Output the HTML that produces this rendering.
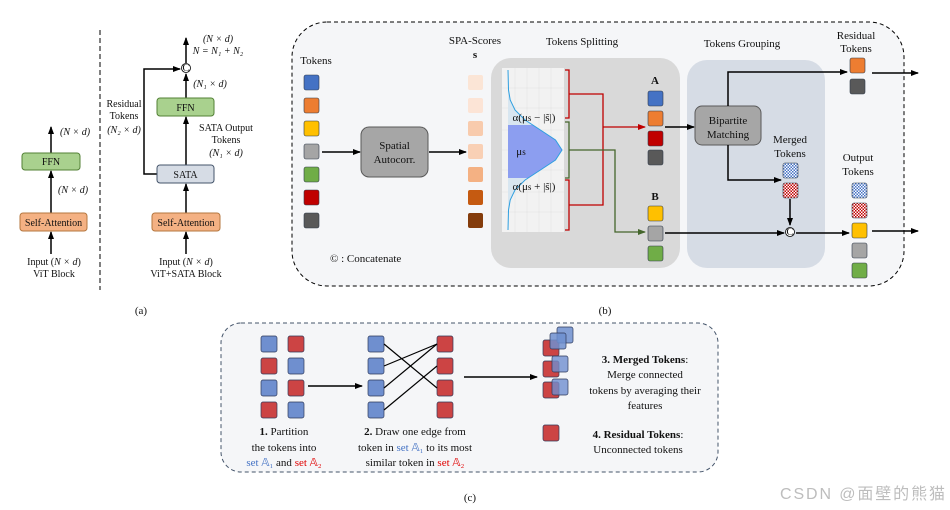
<!DOCTYPE html>
<html><head><meta charset="utf-8"><style>
html,body{margin:0;padding:0;background:#fff}
svg{display:block}
text{font-family:"Liberation Serif",serif;font-size:11px;fill:#111}
.s{font-size:10px}
.b{font-weight:bold}
</style></head><body>
<svg width="950" height="510" viewBox="0 0 950 510" xmlns="http://www.w3.org/2000/svg">
<defs>
<marker id="ar" markerWidth="8" markerHeight="8" refX="7" refY="4" orient="auto" markerUnits="userSpaceOnUse"><path d="M0,1 L8,4 L0,7 z" fill="#000"/></marker>
<marker id="arr" markerWidth="8" markerHeight="8" refX="7" refY="4" orient="auto" markerUnits="userSpaceOnUse"><path d="M0,1 L8,4 L0,7 z" fill="#c00000"/></marker>
<marker id="arg" markerWidth="8" markerHeight="8" refX="7" refY="4" orient="auto" markerUnits="userSpaceOnUse"><path d="M0,1 L8,4 L0,7 z" fill="#44662c"/></marker>
<pattern id="pb" width="3" height="3" patternUnits="userSpaceOnUse"><rect width="3" height="3" fill="#fff"/><rect width="1.5" height="1.5" fill="#4472c4"/><rect x="1.5" y="1.5" width="1.5" height="1.5" fill="#4472c4"/></pattern>
<pattern id="pr" width="3" height="3" patternUnits="userSpaceOnUse"><rect width="3" height="3" fill="#fff"/><rect width="1.5" height="1.5" fill="#c00000"/><rect x="1.5" y="1.5" width="1.5" height="1.5" fill="#c00000"/></pattern>
</defs>

<!-- (a) -->
<line x1="100" y1="30" x2="100" y2="290" stroke="#000" stroke-dasharray="5,3"/>
<g stroke="#000" stroke-width="1.5" fill="none">
<line x1="51" y1="254" x2="51" y2="232" marker-end="url(#ar)"/>
<line x1="51" y1="213" x2="51" y2="171" marker-end="url(#ar)"/>
<line x1="51" y1="153" x2="51" y2="127" marker-end="url(#ar)"/>
<line x1="186" y1="254" x2="186" y2="232" marker-end="url(#ar)"/>
<line x1="186" y1="213" x2="186" y2="184" marker-end="url(#ar)"/>
<line x1="186" y1="165" x2="186" y2="117" marker-end="url(#ar)"/>
<line x1="186" y1="98" x2="186" y2="74" marker-end="url(#ar)"/>
<line x1="186" y1="63" x2="186" y2="38" marker-end="url(#ar)"/>
<polyline points="157,174 144,174 144,69 180,69" marker-end="url(#ar)"/>
</g>
<rect x="22" y="153" width="58" height="17" rx="3" fill="#a9d18e" stroke="#538135"/>
<text x="51" y="165" text-anchor="middle" class="s">FFN</text>
<rect x="20" y="213" width="67" height="18" rx="3" fill="#f4b183" stroke="#b5773f"/>
<text x="53.5" y="226" text-anchor="middle" class="s">Self-Attention</text>
<text x="60" y="135" class="s" font-style="italic">(N × d)</text>
<text x="58" y="193" class="s" font-style="italic">(N × d)</text>
<text x="54" y="265" text-anchor="middle" class="s">Input (<tspan font-style="italic">N × d</tspan>)</text>
<text x="54" y="277" text-anchor="middle" class="s">ViT Block</text>

<rect x="157" y="98" width="57" height="18" rx="3" fill="#a9d18e" stroke="#538135"/>
<text x="185.5" y="111" text-anchor="middle" class="s">FFN</text>
<rect x="157" y="165" width="57" height="18" rx="3" fill="#d6dce5" stroke="#44546a"/>
<text x="185.5" y="178" text-anchor="middle" class="s">SATA</text>
<rect x="152" y="213" width="68" height="18" rx="3" fill="#f4b183" stroke="#b5773f"/>
<text x="186" y="226" text-anchor="middle" class="s">Self-Attention</text>
<circle cx="186" cy="68" r="4.5" fill="#fff" stroke="#000" stroke-width="0.8"/>
<text x="186" y="71" text-anchor="middle" font-size="7">C</text>
<text x="218" y="42" text-anchor="middle" class="s" font-style="italic">(N × d)</text>
<text x="218" y="54" text-anchor="middle" class="s" font-style="italic">N = N₁ + N₂</text>
<text x="210" y="87" text-anchor="middle" class="s" font-style="italic">(N₁ × d)</text>
<text x="124" y="107" text-anchor="middle" class="s">Residual</text>
<text x="124" y="119" text-anchor="middle" class="s">Tokens</text>
<text x="124" y="133" text-anchor="middle" class="s" font-style="italic">(N₂ × d)</text>
<text x="226" y="131" text-anchor="middle" class="s">SATA Output</text>
<text x="226" y="143" text-anchor="middle" class="s">Tokens</text>
<text x="226" y="156" text-anchor="middle" class="s" font-style="italic">(N₁ × d)</text>
<text x="186" y="265" text-anchor="middle" class="s">Input (<tspan font-style="italic">N × d</tspan>)</text>
<text x="186" y="277" text-anchor="middle" class="s">ViT+SATA Block</text>
<text x="141" y="314" text-anchor="middle" font-size="15">(a)</text>

<!-- (b) -->
<rect x="292" y="22" width="612" height="264" rx="35" fill="#f5f6f8" stroke="#000" stroke-dasharray="4,3"/>
<rect x="491" y="58" width="189" height="210" rx="20" fill="#d9d9d9"/>
<rect x="687" y="60" width="138" height="208" rx="20" fill="#d6dce5"/>
<text x="316" y="64" text-anchor="middle">Tokens</text>
<text x="475" y="44" text-anchor="middle">SPA-Scores</text>
<text x="475" y="58" text-anchor="middle" class="b">s</text>
<text x="582" y="45" text-anchor="middle">Tokens Splitting</text>
<text x="742" y="47" text-anchor="middle">Tokens Grouping</text>
<text x="856" y="39" text-anchor="middle">Residual</text>
<text x="856" y="52" text-anchor="middle">Tokens</text>
<text x="790" y="143" text-anchor="middle">Merged</text>
<text x="790" y="157" text-anchor="middle">Tokens</text>
<text x="858" y="161" text-anchor="middle">Output</text>
<text x="858" y="175" text-anchor="middle">Tokens</text>
<g stroke="#2f3a4a" stroke-width="0.6">
<rect x="304" y="75" width="15" height="15" rx="2" fill="#4472c4"/>
<rect x="304" y="98" width="15" height="15" rx="2" fill="#ed7d31"/>
<rect x="304" y="121" width="15" height="15" rx="2" fill="#ffc000"/>
<rect x="304" y="144" width="15" height="15" rx="2" fill="#a5a5a5"/>
<rect x="304" y="167" width="15" height="15" rx="2" fill="#70ad47"/>
<rect x="304" y="190" width="15" height="15" rx="2" fill="#c00000"/>
<rect x="304" y="213" width="15" height="15" rx="2" fill="#595959"/>
</g>
<g>
<rect x="468" y="75" width="15" height="15" rx="2" fill="#fbe5d6"/>
<rect x="468" y="98" width="15" height="15" rx="2" fill="#fce4d6"/>
<rect x="468" y="121" width="15" height="15" rx="2" fill="#f8cbad"/>
<rect x="468" y="144" width="15" height="15" rx="2" fill="#f9d0b5"/>
<rect x="468" y="167" width="15" height="15" rx="2" fill="#f4b183"/>
<rect x="468" y="190" width="15" height="15" rx="2" fill="#c55a11"/>
<rect x="468" y="213" width="15" height="15" rx="2" fill="#843c0c"/>
</g>
<g stroke="#000" stroke-width="1.5" fill="none">
<line x1="322" y1="152" x2="360" y2="152" marker-end="url(#ar)"/>
<line x1="429" y1="152" x2="466" y2="152" marker-end="url(#ar)"/>
</g>
<rect x="361" y="127" width="67" height="50" rx="8" fill="#a6a6a6" stroke="#595959"/>
<text x="394.5" y="149" text-anchor="middle">Spatial</text>
<text x="394.5" y="163" text-anchor="middle">Autocorr.</text>

<!-- chart -->
<rect x="502" y="68" width="62" height="164" fill="#f2f2f2"/>
<g stroke="#e0e0e0" stroke-width="0.5">
<line x1="515" y1="68" x2="515" y2="232"/><line x1="527" y1="68" x2="527" y2="232"/><line x1="539" y1="68" x2="539" y2="232"/><line x1="551" y1="68" x2="551" y2="232"/>
<line x1="502" y1="88" x2="564" y2="88"/><line x1="502" y1="108" x2="564" y2="108"/><line x1="502" y1="130" x2="564" y2="130"/><line x1="502" y1="150" x2="564" y2="150"/><line x1="502" y1="170" x2="564" y2="170"/><line x1="502" y1="192" x2="564" y2="192"/><line x1="502" y1="212" x2="564" y2="212"/>
</g>
<path d="M508,70 L508.5,90 L510.2,100 L515,110 L525.1,120 L540.4,130 L555.5,140 L562,150 L555.5,160 L540.4,170 L525.1,180 L515,190 L510.2,200 L508.5,210 L508,230 Z" fill="#d8e6f0"/>
<path d="M508,125 L532.3,125 L540.4,130 L555.5,140 L562,150 L555.5,160 L540.4,170 L527.9,178 L508,178 Z" fill="#8c9ef0"/>
<path d="M508,70 L508.5,90 L510.2,100 L515,110 L525.1,120 L540.4,130 L555.5,140 L562,150 L555.5,160 L540.4,170 L525.1,180 L515,190 L510.2,200 L508.5,210 L508,230" fill="none" stroke="#2e9fe0" stroke-width="1"/>
<text x="534" y="121" text-anchor="middle" font-size="12.5" fill="#222">α(μ<tspan font-size="9">s</tspan> − |s̃|)</text>
<text x="521" y="155" text-anchor="middle" font-size="12.5">μ<tspan font-size="9">s</tspan></text>
<text x="534" y="190" text-anchor="middle" font-size="12.5" fill="#222">α(μ<tspan font-size="9">s</tspan> + |s̃|)</text>
<g fill="none" stroke-width="1.3">
<polyline points="565,70 569,70 569,118 565,118" stroke="#c00000"/>
<polyline points="565,122 569,122 569,178 565,178" stroke="#44662c"/>
<polyline points="565,180 569,180 569,230 565,230" stroke="#c00000"/>
<polyline points="569,94 603,94 603,205 569,205" stroke="#c00000"/>
<line x1="603" y1="127" x2="645" y2="127" stroke="#c00000" marker-end="url(#arr)"/>
<polyline points="569,150 615,150 615,232 645,232" stroke="#44662c" marker-end="url(#arg)"/>
</g>
<text x="655" y="84" text-anchor="middle" font-size="13" class="b">A</text>
<text x="655" y="200" text-anchor="middle" font-size="13" class="b">B</text>
<g stroke="#2f3a4a" stroke-width="0.6">
<rect x="648" y="91" width="15" height="15" rx="2" fill="#4472c4"/>
<rect x="648" y="111" width="15" height="15" rx="2" fill="#ed7d31"/>
<rect x="648" y="131" width="15" height="15" rx="2" fill="#c00000"/>
<rect x="648" y="150" width="15" height="15" rx="2" fill="#595959"/>
<rect x="648" y="206" width="15" height="15" rx="2" fill="#ffc000"/>
<rect x="648" y="226" width="15" height="15" rx="2" fill="#a5a5a5"/>
<rect x="648" y="246" width="15" height="15" rx="2" fill="#70ad47"/>
<rect x="850" y="58" width="15" height="15" rx="2" fill="#ed7d31"/>
<rect x="850" y="79" width="15" height="15" rx="2" fill="#595959"/>
<rect x="783" y="163" width="15" height="15" rx="2" fill="url(#pb)"/>
<rect x="783" y="183" width="15" height="15" rx="2" fill="url(#pr)"/>
<rect x="852" y="183" width="15" height="15" rx="2" fill="url(#pb)"/>
<rect x="852" y="203" width="15" height="15" rx="2" fill="url(#pr)"/>
<rect x="852" y="223" width="15" height="15" rx="2" fill="#ffc000"/>
<rect x="852" y="243" width="15" height="15" rx="2" fill="#a5a5a5"/>
<rect x="852" y="263" width="15" height="15" rx="2" fill="#70ad47"/>
</g>
<rect x="695" y="106" width="66" height="39" rx="7" fill="#a6a6a6" stroke="#595959"/>
<text x="728" y="124" text-anchor="middle">Bipartite</text>
<text x="728" y="138" text-anchor="middle">Matching</text>
<g stroke="#000" stroke-width="1.5" fill="none">
<line x1="665" y1="127" x2="694" y2="127" marker-end="url(#ar)"/>
<polyline points="728,106 728,72 847,72" marker-end="url(#ar)"/>
<polyline points="728,145 728,180 781,180" marker-end="url(#ar)"/>
<line x1="790" y1="199" x2="790" y2="225" marker-end="url(#ar)"/>
<line x1="665" y1="233" x2="784" y2="233" marker-end="url(#ar)"/>
<line x1="796" y1="233" x2="849" y2="233" marker-end="url(#ar)"/>
<line x1="872" y1="73" x2="918" y2="73" marker-end="url(#ar)"/>
<line x1="872" y1="231" x2="918" y2="231" marker-end="url(#ar)"/>
</g>
<circle cx="790" cy="232" r="4.5" fill="#fff" stroke="#000" stroke-width="0.8"/>
<text x="790" y="235" text-anchor="middle" font-size="7">C</text>
<text x="330" y="262">© : Concatenate</text>
<text x="605" y="314" text-anchor="middle" font-size="15">(b)</text>

<!-- (c) -->
<rect x="221" y="323" width="497" height="149" rx="20" fill="#f5f6f8" stroke="#44546a" stroke-dasharray="4,3"/>
<g stroke="#2f3a5a" stroke-width="0.7">
<rect x="261" y="336" width="16" height="16" rx="2" fill="#6f8fcf"/>
<rect x="261" y="358" width="16" height="16" rx="2" fill="#cc4444"/>
<rect x="261" y="380" width="16" height="16" rx="2" fill="#6f8fcf"/>
<rect x="261" y="402" width="16" height="16" rx="2" fill="#cc4444"/>
<rect x="288" y="336" width="16" height="16" rx="2" fill="#cc4444"/>
<rect x="288" y="358" width="16" height="16" rx="2" fill="#6f8fcf"/>
<rect x="288" y="380" width="16" height="16" rx="2" fill="#cc4444"/>
<rect x="288" y="402" width="16" height="16" rx="2" fill="#6f8fcf"/>
<rect x="368" y="336" width="16" height="16" rx="2" fill="#6f8fcf"/>
<rect x="368" y="358" width="16" height="16" rx="2" fill="#6f8fcf"/>
<rect x="368" y="380" width="16" height="16" rx="2" fill="#6f8fcf"/>
<rect x="368" y="402" width="16" height="16" rx="2" fill="#6f8fcf"/>
<rect x="437" y="336" width="16" height="16" rx="2" fill="#cc4444"/>
<rect x="437" y="358" width="16" height="16" rx="2" fill="#cc4444"/>
<rect x="437" y="380" width="16" height="16" rx="2" fill="#cc4444"/>
<rect x="437" y="402" width="16" height="16" rx="2" fill="#cc4444"/>
<rect x="543" y="340" width="16" height="16" rx="2" fill="#cc4444"/>
<rect x="543" y="361" width="16" height="16" rx="2" fill="#cc4444"/>
<rect x="543" y="382" width="16" height="16" rx="2" fill="#cc4444"/>
<rect x="557" y="327" width="16" height="16" rx="2" fill="#6f8fcf" fill-opacity="0.85"/>
<rect x="550" y="333" width="16" height="16" rx="2" fill="#6f8fcf" fill-opacity="0.85"/>
<rect x="552" y="356" width="16" height="16" rx="2" fill="#6f8fcf" fill-opacity="0.8"/>
<rect x="552" y="379" width="16" height="16" rx="2" fill="#6f8fcf" fill-opacity="0.8"/>
<rect x="543" y="425" width="16" height="16" rx="2" fill="#cc4444"/>
</g>
<g stroke="#000" stroke-width="1.2">
<line x1="384" y1="344" x2="437" y2="388"/>
<line x1="384" y1="366" x2="437" y2="344"/>
<line x1="384" y1="388" x2="437" y2="344"/>
<line x1="384" y1="410" x2="437" y2="366"/>
</g>
<g stroke="#000" stroke-width="1.5">
<line x1="308" y1="386" x2="362" y2="386" marker-end="url(#ar)"/>
<line x1="464" y1="377" x2="537" y2="377" marker-end="url(#ar)"/>
</g>
<g font-size="12">
<text x="284" y="435" text-anchor="middle"><tspan font-weight="bold">1.</tspan> Partition</text>
<text x="284" y="451" text-anchor="middle">the tokens into</text>
<text x="284" y="466" text-anchor="middle"><tspan fill="#4472c4">set 𝔸₁</tspan> and <tspan fill="#e00000">set 𝔸₂</tspan></text>
<text x="415" y="435" text-anchor="middle"><tspan font-weight="bold">2.</tspan> Draw one edge from</text>
<text x="415" y="451" text-anchor="middle">token in <tspan fill="#4472c4">set 𝔸₁</tspan> to its most</text>
<text x="415" y="466" text-anchor="middle">similar token in <tspan fill="#e00000">set 𝔸₂</tspan></text>
<text x="645" y="363" text-anchor="middle"><tspan font-weight="bold">3. Merged Tokens</tspan>:</text>
<text x="645" y="378" text-anchor="middle">Merge connected</text>
<text x="645" y="394" text-anchor="middle">tokens by averaging their</text>
<text x="645" y="409" text-anchor="middle">features</text>
<text x="638" y="438" text-anchor="middle"><tspan font-weight="bold">4. Residual Tokens</tspan>:</text>
<text x="638" y="453" text-anchor="middle">Unconnected tokens</text>
</g>
<text x="470" y="501" text-anchor="middle" font-size="15">(c)</text>
<text x="780" y="499" style="font-family:'Liberation Sans','Noto Sans CJK SC',sans-serif;fill:#bdbdbd;font-size:16px" textLength="165">CSDN @面壁的熊猫</text>
</svg>
</body></html>
